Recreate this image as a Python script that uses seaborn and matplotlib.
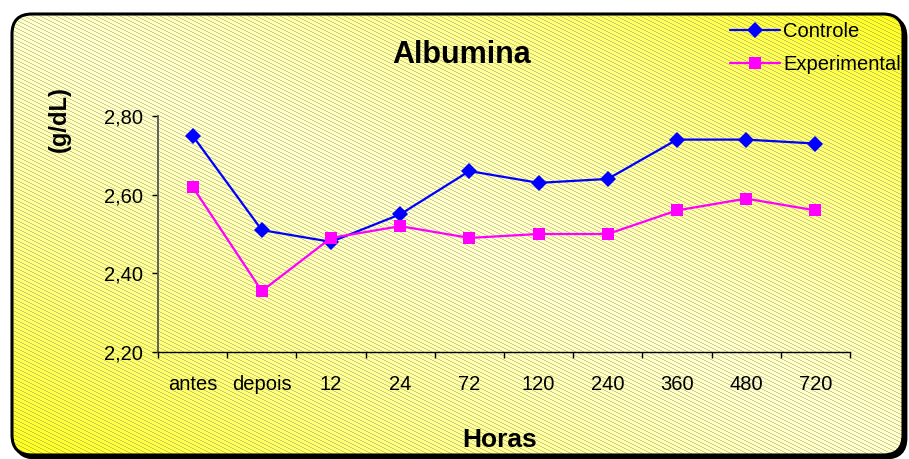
import numpy as np
import pandas as pd
import matplotlib
matplotlib.use("Agg")
import matplotlib.pyplot as plt
from matplotlib.patches import FancyBboxPatch
from matplotlib.ticker import FixedLocator, FuncFormatter
import seaborn as sns

# Albumina sérica (g/dL) ao longo do tempo
categorias = ["antes", "depois", "12", "24", "72", "120", "240", "360", "480", "720"]
controle = [2.75, 2.51, 2.48, 2.55, 2.66, 2.63, 2.64, 2.74, 2.74, 2.73]
experimental = [2.62, 2.355, 2.49, 2.52, 2.49, 2.50, 2.50, 2.56, 2.59, 2.56]
y_ticks = [2.20, 2.40, 2.60, 2.80]

sns.set_style("white")
plt.rcParams["font.family"] = ["Liberation Sans", "DejaVu Sans"]
for key in ["text.color", "axes.labelcolor", "xtick.color", "ytick.color"]:
    plt.rcParams[key] = "black"

W, H, DPI = 909, 459, 100
fig = plt.figure(figsize=(W / DPI, H / DPI), dpi=DPI)
fig.patch.set_facecolor("white")

# ---- background panel: rounded box, diagonal gradient and fine hatch ----
bg = fig.add_axes([0, 0, 1, 1], zorder=-10)
bg.set_xlim(0, W)
bg.set_ylim(H, 0)
bg.axis("off")

x0, y0, x1, y1 = 12, 14, 903, 455
rad = 20
shadow = FancyBboxPatch((x0 + 3, y0 + 3), x1 - x0, y1 - y0,
                        boxstyle=f"round,pad=0,rounding_size={rad}",
                        facecolor="black", edgecolor="black", lw=2)
bg.add_patch(shadow)

yy, xx = np.mgrid[0:H, 0:W].astype(float)
t = ((xx - x0) / (x1 - x0) + (y1 - yy) / (y1 - y0)) / 2.0
s = np.clip(np.abs(t - 0.5) * 2.0, 0, 1) ** 1.4
pale = np.array([255, 255, 204]) / 255.0
yellow = np.array([255, 255, 30]) / 255.0
img = pale[None, None, :] * (1 - s[..., None]) + yellow[None, None, :] * s[..., None]
hatch = ((xx.astype(int) - 2 * yy.astype(int)) % 8) < 2
shade = np.array([110, 110, 80]) / 255.0
img[hatch] = img[hatch] * 0.66 + shade * 0.34

panel = FancyBboxPatch((x0, y0), x1 - x0, y1 - y0,
                       boxstyle=f"round,pad=0,rounding_size={rad}",
                       facecolor="none", edgecolor="black", lw=2.2)
im = bg.imshow(img, extent=(0, W, H, 0), interpolation="nearest", zorder=1)
bg.add_patch(panel)
im.set_clip_path(panel)
panel.set_zorder(2)

# ---- data axes ----
L, R, T, B = 158, 850, 116, 352
ax = fig.add_axes([L / W, 1 - B / H, (R - L) / W, (B - T) / H])
ax.patch.set_alpha(0)

df = pd.DataFrame({
    "Horas": categorias * 2,
    "valor": controle + experimental,
    "serie": ["Controle"] * len(categorias) + ["Experimental"] * len(categorias),
})
sns.lineplot(data=df, x="Horas", y="valor", hue="serie", style="serie",
             markers={"Controle": "D", "Experimental": "s"}, dashes=False,
             palette={"Controle": "#0000FF", "Experimental": "#FF00FF"},
             sort=False, lw=1.6, markersize=8, markeredgewidth=0, ax=ax)

n = len(categorias)
ax.set_xlim(-0.5, n - 0.5)
ax.set_ylim(2.2, 2.8)
ax.set_xlabel("")
ax.set_ylabel("")

ax.xaxis.set_major_locator(FixedLocator(np.arange(n + 1) - 0.5))
ax.xaxis.set_major_formatter(FuncFormatter(lambda v, p: ""))
ax.xaxis.set_minor_locator(FixedLocator(np.arange(n)))
ax.set_xticklabels(categorias, minor=True)
ax.tick_params(axis="x", which="major", direction="out", length=4.5, width=1,
               color="black", bottom=True)
ax.tick_params(axis="x", which="minor", length=0, pad=16.5, labelsize=14.5)

ax.yaxis.set_major_locator(FixedLocator(y_ticks))
ax.yaxis.set_major_formatter(FuncFormatter(lambda v, p: f"{v:.2f}".replace(".", ",")))
ax.tick_params(axis="y", direction="out", length=4, width=1, color="black",
               pad=7, labelsize=14.5, left=True)

for side in ["top", "right"]:
    ax.spines[side].set_visible(False)
ax.spines["left"].set_color("#555555")
ax.spines["left"].set_linewidth(1.3)
ax.spines["bottom"].set_color("black")
ax.spines["bottom"].set_linewidth(1.0)

handles, labels = ax.get_legend_handles_labels()
ax.legend(handles, labels, loc="upper left",
          bbox_to_anchor=(730 / W, 1 - 22 / H), bbox_transform=fig.transFigure,
          frameon=False, fontsize=14.5, handlelength=2.5, handletextpad=0.15,
          borderpad=0, borderaxespad=0, labelspacing=0.68)

# ---- titles ----
fig.text(462 / W, 1 - 63 / H, "Albumina", ha="center", va="baseline",
         fontsize=22, fontweight="bold")
fig.text(500 / W, 1 - 447 / H, "Horas", ha="center", va="baseline",
         fontsize=19, fontweight="bold")
fig.text(59 / W, 1 - 119 / H, "(g/dL)", ha="center", va="center",
         rotation=90, fontsize=17, fontweight="bold")

fig.savefig("out.png", dpi=DPI)
